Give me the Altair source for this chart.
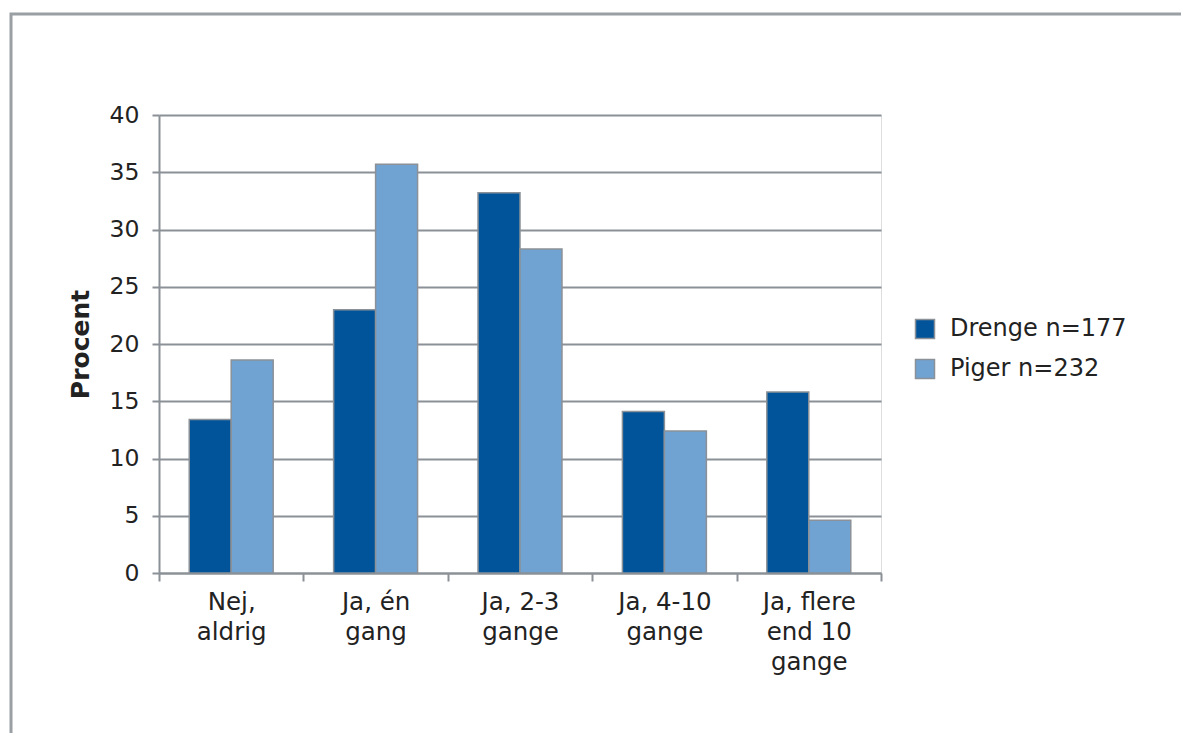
import altair as alt
import pandas as pd

categories = ["Nej,\naldrig", "Ja, én\ngang", "Ja, 2-3\ngange", "Ja, 4-10\ngange", "Ja, flere\nend 10\ngange"]
groups = ["Drenge n=177", "Piger n=232"]
drenge = [13.4, 23.0, 33.2, 14.1, 15.8]
piger = [18.6, 35.7, 28.3, 12.4, 4.6]
colors = ["#01549a", "#70a2d2"]
y_ticks = [0, 5, 10, 15, 20, 25, 30, 35, 40]

rows = []
for c, d, p in zip(categories, drenge, piger):
    rows.append({"kategori": c, "gruppe": groups[0], "procent": d})
    rows.append({"kategori": c, "gruppe": groups[1], "procent": p})
df = pd.DataFrame(rows)

GRAY = "#8b9197"
TXT = "#222222"
FONT = "DejaVu Sans"
W, H = 722, 458

bars = alt.Chart(df).mark_bar(stroke=GRAY, strokeWidth=1.5).encode(
    x=alt.X(
        "kategori:N",
        sort=categories,
        scale=alt.Scale(paddingInner=0, paddingOuter=0),
        axis=alt.Axis(
            title=None,
            labelAngle=0,
            labelExpr="split(datum.label, '\\n')",
            labelFontSize=24.5,
            labelLineHeight=30,
            labelColor=TXT,
            labelFont=FONT,
            labelPadding=9,
            tickBand="extent",
            tickSize=8,
            tickColor=GRAY,
            tickWidth=2,
            domainColor=GRAY,
            domainWidth=2,
            grid=False,
        ),
    ),
    xOffset=alt.XOffset(
        "gruppe:N",
        sort=groups,
        scale=alt.Scale(paddingInner=0, paddingOuter=0.72),
    ),
    y=alt.Y(
        "procent:Q",
        scale=alt.Scale(domain=[0, 40], nice=False),
        axis=alt.Axis(
            title="Procent",
            titleFont=FONT,
            titleFontSize=25,
            titleFontWeight="bold",
            titleColor=TXT,
            titlePadding=16,
            values=y_ticks,
            labelFontSize=23.5,
            labelFont=FONT,
            labelColor=TXT,
            labelPadding=13,
            tickSize=7,
            tickColor=GRAY,
            tickWidth=2,
            domainColor=GRAY,
            domainWidth=2,
            grid=True,
            gridColor=GRAY,
            gridWidth=2,
        ),
    ),
    color=alt.Color(
        "gruppe:N",
        sort=groups,
        scale=alt.Scale(domain=groups, range=colors),
        legend=alt.Legend(
            title=None,
            orient="none",
            legendX=754,
            legendY=202,
            symbolType="square",
            symbolSize=361,
            symbolStrokeColor=GRAY,
            symbolStrokeWidth=1.5,
            labelFontSize=24,
            labelFont=FONT,
            labelColor=TXT,
            labelOffset=13,
            labelLimit=400,
            rowPadding=14,
        ),
    ),
)

frame = alt.Chart(alt.Data(values=[{"f": 1}])).mark_rect(
    fill=None, stroke="#9a9fa4", strokeWidth=3, clip=False
).encode(
    x=alt.value(-148), x2=alt.value(1200), y=alt.value(-101), y2=alt.value(800)
)

chart = alt.layer(frame, bars).properties(
    width=W,
    height=H,
    autosize=alt.AutoSizeParams(type="none"),
    padding={"left": 151, "top": 107, "right": 300, "bottom": 160},
).configure_view(stroke=GRAY, strokeWidth=2).configure(background="white")

chart.save("out.html", embed_options={"renderer": "svg", "actions": False})
